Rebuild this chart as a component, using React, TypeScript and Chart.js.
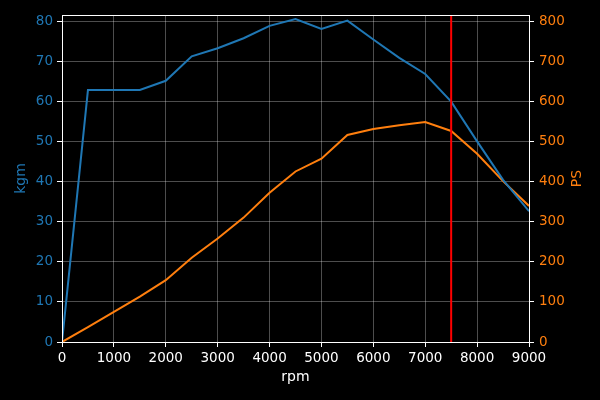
import React, { useEffect, useRef } from "react";
import { Chart, registerables } from "chart.js";

Chart.register(...registerables);

const rpm = [0, 500, 1000, 1500, 2000, 2500, 3000, 3500, 4000, 4500, 5000, 5500, 6000, 6500, 7000, 7500, 8000, 8500, 9000];
const torqueKgm = [0, 62.8, 62.8, 62.8, 65.1, 71.2, 73.2, 75.7, 78.8, 80.5, 78.0, 80.1, 75.4, 70.8, 66.8, 59.9, 50.0, 40.4, 32.6];
const powerPS = [0, 37, 75, 113, 154, 210, 258, 310, 372, 425, 457, 516, 531, 540, 548, 526, 469, 401, 339];
const redlineRpm = 7500;
const xTicks = [0, 1000, 2000, 3000, 4000, 5000, 6000, 7000, 8000, 9000];
const kgmTicks = [0, 10, 20, 30, 40, 50, 60, 70, 80];
const psTicks = [0, 100, 200, 300, 400, 500, 600, 700, 800];

const BLUE = "#1f77b4";
const ORANGE = "#ff7f0e";
const FONT = "'DejaVu Sans', sans-serif";
const TICK_SIZE = 13.5;

export default function App() {
  const ref = useRef<HTMLCanvasElement | null>(null);

  useEffect(() => {
    document.body.style.margin = "0";
    document.body.style.background = "#000";
    const canvas = ref.current!;

    const framePlugin = {
      id: "frame",
      afterDatasetsDraw(chart: any) {
        const { ctx, chartArea, scales } = chart;
        ctx.save();
        const xr = scales.x.getPixelForValue(redlineRpm);
        ctx.strokeStyle = "#ff0000";
        ctx.lineWidth = 2;
        ctx.beginPath();
        ctx.moveTo(xr, chartArea.top);
        ctx.lineTo(xr, chartArea.bottom);
        ctx.stroke();
        ctx.strokeStyle = "#ffffff";
        ctx.lineWidth = 1;
        ctx.strokeRect(
          Math.round(chartArea.left) + 0.5,
          Math.round(chartArea.top) + 0.5,
          Math.round(chartArea.right - chartArea.left),
          Math.round(chartArea.bottom - chartArea.top)
        );
        const midY = (chartArea.top + chartArea.bottom) / 2;
        ctx.font = `14px ${FONT}`;
        ctx.textAlign = "center";
        ctx.textBaseline = "middle";
        ctx.fillStyle = "#ffffff";
        ctx.fillText("rpm", (chartArea.left + chartArea.right) / 2, 377);
        ctx.fillStyle = BLUE;
        ctx.save();
        ctx.translate(21, midY);
        ctx.rotate(-Math.PI / 2);
        ctx.fillText("kgm", 0, 0);
        ctx.restore();
        ctx.fillStyle = ORANGE;
        ctx.save();
        ctx.translate(577, midY);
        ctx.rotate(-Math.PI / 2);
        ctx.fillText("PS", 0, 0);
        ctx.restore();
        ctx.restore();
      },
    };

    const grid = {
      color: "rgba(255,255,255,0.3)",
      tickColor: "#ffffff",
      tickLength: 5,
      drawTicks: true,
    };
    const plain = (v: any) => String(v);

    const chart = new Chart(canvas, {
      type: "line",
      data: {
        datasets: [
          {
            label: "kgm",
            data: rpm.map((x, i) => ({ x, y: torqueKgm[i] })),
            borderColor: BLUE,
            backgroundColor: BLUE,
            borderWidth: 2,
            pointRadius: 0,
            tension: 0,
            yAxisID: "y",
          },
          {
            label: "PS",
            data: rpm.map((x, i) => ({ x, y: powerPS[i] })),
            borderColor: ORANGE,
            backgroundColor: ORANGE,
            borderWidth: 2,
            pointRadius: 0,
            tension: 0,
            yAxisID: "y1",
          },
        ],
      },
      options: {
        animation: false,
        responsive: false,
        maintainAspectRatio: false,
        layout: { padding: { top: 15, left: 0, right: 0, bottom: 0 } },
        plugins: { legend: { display: false }, tooltip: { enabled: false } },
        scales: {
          x: {
            type: "linear",
            min: 0,
            max: 9000,
            grid: { ...grid },
            border: { display: false },
            afterBuildTicks(scale: any) {
              scale.ticks = xTicks.map((v) => ({ value: v }));
            },
            afterFit(scale: any) {
              scale.height = 58;
            },
            ticks: {
              color: "#ffffff",
              font: { family: FONT, size: TICK_SIZE },
              padding: 3,
              maxRotation: 0,
              autoSkip: false,
              callback: plain,
            },
          },
          y: {
            type: "linear",
            position: "left",
            min: 0,
            max: 81.5,
            grid: { ...grid },
            border: { display: false },
            afterBuildTicks(scale: any) {
              scale.ticks = kgmTicks.map((v) => ({ value: v }));
            },
            afterFit(scale: any) {
              scale.width = 62;
            },
            ticks: {
              color: BLUE,
              font: { family: FONT, size: TICK_SIZE },
              padding: 4,
              autoSkip: false,
              callback: plain,
            },
          },
          y1: {
            type: "linear",
            position: "right",
            min: 0,
            max: 815,
            grid: { ...grid, drawOnChartArea: false },
            border: { display: false },
            afterBuildTicks(scale: any) {
              scale.ticks = psTicks.map((v) => ({ value: v }));
            },
            afterFit(scale: any) {
              scale.width = 71;
            },
            ticks: {
              color: ORANGE,
              font: { family: FONT, size: TICK_SIZE },
              padding: 5,
              autoSkip: false,
              callback: plain,
            },
          },
        },
      },
      plugins: [framePlugin],
    });
    return () => chart.destroy();
  }, []);

  return (
    <div style={{ width: 600, height: 400, background: "#000" }}>
      <canvas ref={ref} width={600} height={400} style={{ display: "block" }} />
    </div>
  );
}
